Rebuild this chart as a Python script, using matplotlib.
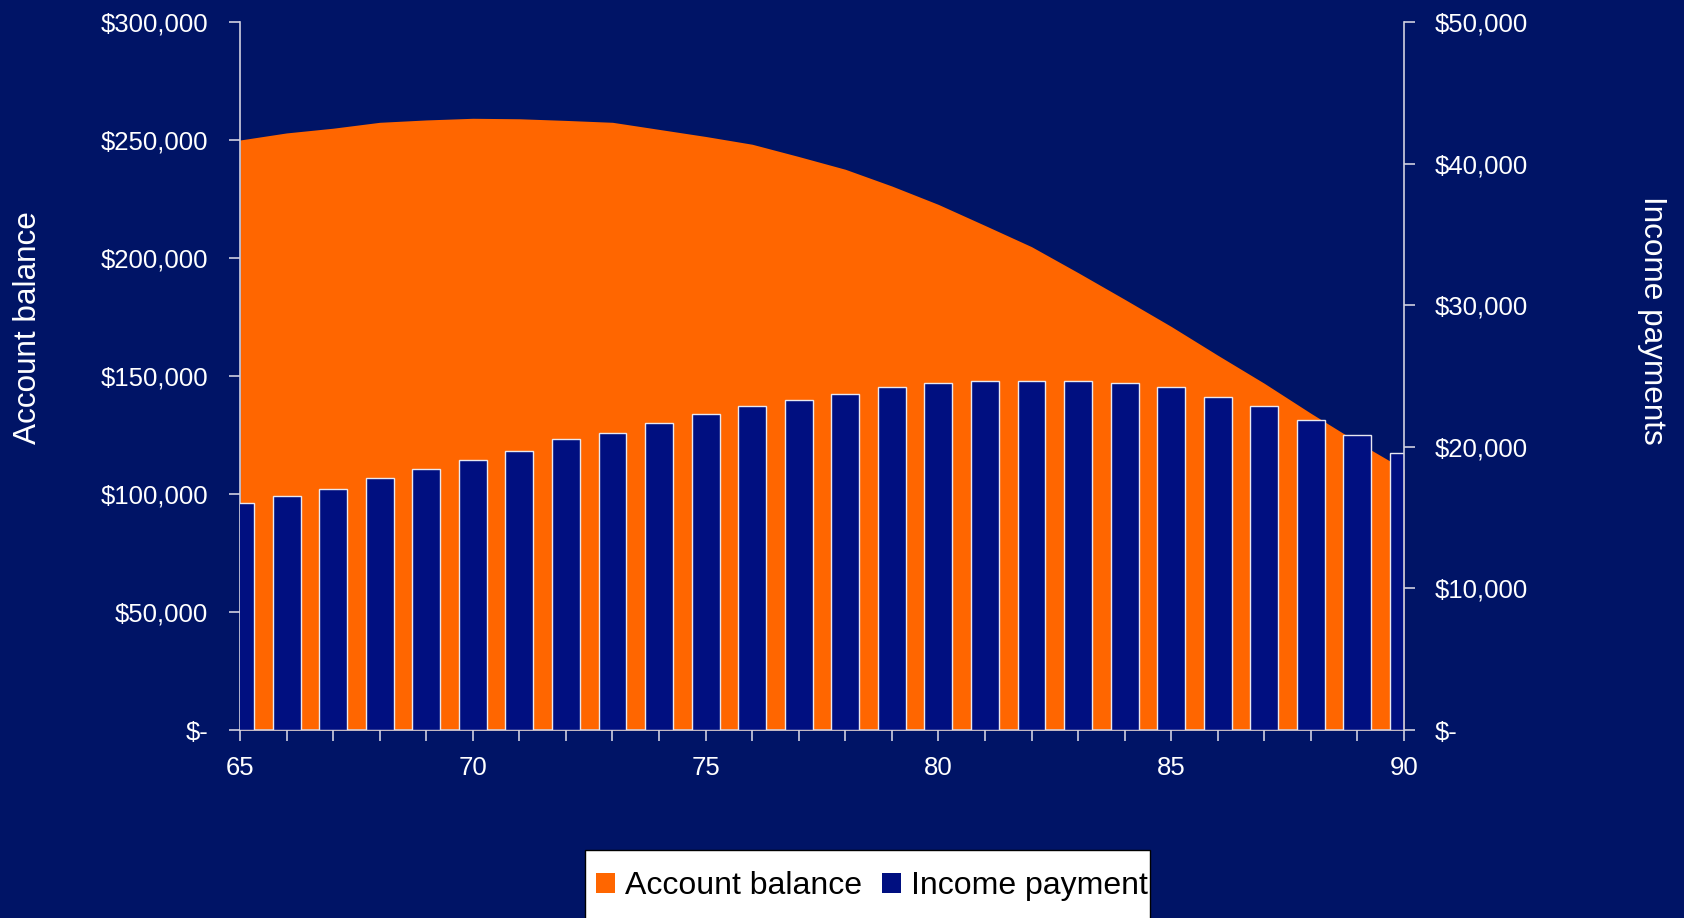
import matplotlib
matplotlib.use("Agg")
import matplotlib.pyplot as plt
from matplotlib.ticker import FuncFormatter, MultipleLocator
from matplotlib.patches import Patch, Rectangle

plt.rcParams['font.family'] = ['Liberation Sans', 'DejaVu Sans']

ages = list(range(65, 91))
account_balance = [250000, 253000, 255000, 257500, 258500, 259200, 259000, 258300,
                   257500, 254500, 251500, 248200, 243000, 237600, 230500, 222700,
                   213800, 204800, 193800, 182500, 171000, 158800, 146900, 134200,
                   122000, 110500]
income_payment = [16000, 16500, 17050, 17800, 18400, 19100, 19700, 20550,
                  21000, 21700, 22300, 22900, 23300, 23750, 24200, 24500,
                  24650, 24650, 24650, 24500, 24200, 23500, 22900, 21900,
                  20850, 19550]
left_ticks = [0, 50000, 100000, 150000, 200000, 250000, 300000]
right_ticks = [0, 10000, 20000, 30000, 40000, 50000]
x_major = [65, 70, 75, 80, 85, 90]

BG = '#001466'
ORANGE = '#FF6600'
BAR = '#000F80'
SPINE = '#D0D0E0'

W, H = 1684, 918
fig = plt.figure(figsize=(W / 100, H / 100), dpi=100)
fig.patch.set_facecolor(BG)

l, r, t, b = 240, 1404, 22, 730
ax = fig.add_axes([l / W, 1 - b / H, (r - l) / W, (b - t) / H])
ax.set_facecolor(BG)
ax.fill_between(ages, account_balance, 0, color=ORANGE, linewidth=0)
ax.set_xlim(65, 90)
ax.set_ylim(0, 300000)
ax.set_yticks(left_ticks)

ax2 = ax.twinx()
ax2.bar(ages, income_payment, width=0.6, color=BAR, edgecolor='#E8E8F0', linewidth=1.0)
ax2.set_ylim(0, 50000)
ax2.set_yticks(right_ticks)
ax2.set_xlim(65, 90)

def money(v, pos):
    if v == 0:
        return '$-'
    return '${:,.0f}'.format(v)

for a in (ax, ax2):
    a.yaxis.set_major_formatter(FuncFormatter(money))
    for s in a.spines.values():
        s.set_visible(False)
    a.tick_params(colors=SPINE, labelcolor='white', labelsize=18.5, length=8, width=1.2)

ax.spines['left'].set_visible(True)
ax.spines['bottom'].set_visible(True)
ax2.spines['right'].set_visible(True)
for s in (ax.spines['left'], ax.spines['bottom'], ax2.spines['right']):
    s.set_color(SPINE)
    s.set_linewidth(1.2)

ax.set_xticks(x_major)
ax.xaxis.set_minor_locator(MultipleLocator(1))
ax.tick_params(axis='x', which='both', colors=SPINE, labelcolor='white', length=8, width=1.2, pad=11)
ax.tick_params(axis='y', pad=15)
ax2.tick_params(axis='y', pad=14)

fig.text(28 / W, 1 - 328 / H, 'Account balance', rotation=90, color='white',
         fontsize=22.7, ha='center', va='center')
fig.text(1652 / W, 1 - 320 / H, 'Income payments', rotation=270, color='white',
         fontsize=22.7, ha='center', va='center')

# legend box
box_l, box_r, box_t, box_b = 585, 1150, 850, 930
fig.patches.append(Rectangle((box_l / W, 1 - box_b / H), (box_r - box_l) / W,
                             (box_b - box_t) / H, transform=fig.transFigure,
                             facecolor='white', edgecolor='black', linewidth=1.0,
                             zorder=5))

handles = [Patch(facecolor=ORANGE, edgecolor='none', label='Account balance'),
           Patch(facecolor=BAR, edgecolor='none', label='Income payment')]
leg = fig.legend(handles=handles, loc='center left', ncol=2,
                 bbox_to_anchor=(596 / W, 1 - 886 / H), frameon=False,
                 fontsize=23, handlelength=0.6, handleheight=0.6, handletextpad=0.3,
                 columnspacing=0.64, borderpad=0, borderaxespad=0)
leg.set_zorder(6)

fig.savefig('out.png', dpi=100, facecolor=BG)
